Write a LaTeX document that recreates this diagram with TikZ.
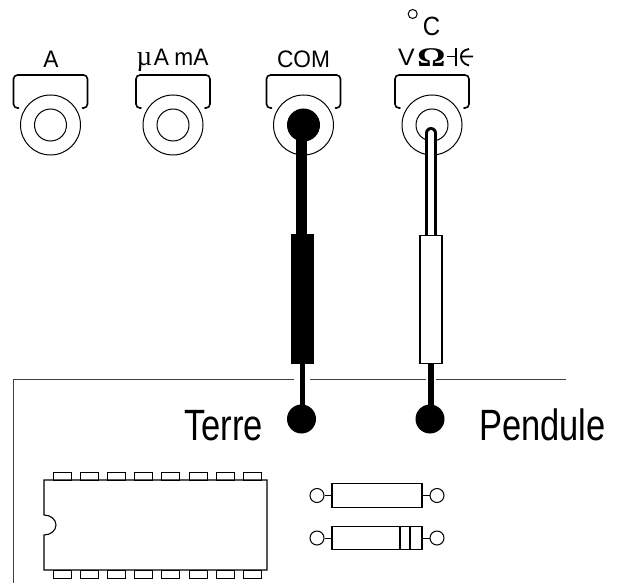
\documentclass[tikz,border=0pt]{standalone}
\usepackage{fontspec}
\setmainfont{Liberation Sans}
\newfontfamily\grk{Liberation Serif}
\tikzset{
 x=1pt,y=-1pt,
 brk/.style={line width=1.6pt,rounded corners=4pt,line cap=round},
 lab/.style={inner sep=0pt,font=\fontsize{22.7}{24}\selectfont,yscale=1.05},
 big/.style={inner sep=0pt,font=\fontsize{34.5}{36}\selectfont,yscale=1.27},
 jackout/.style={circle,draw,line width=1pt,minimum size=60pt,inner sep=0pt},
 jackin/.style={circle,draw,line width=1pt,minimum size=32pt,inner sep=0pt},
 plug/.style={circle,fill=black,minimum size=32pt,inner sep=0pt},
 ball/.style={circle,fill=black,minimum size=29pt,inner sep=0pt},
 sleeve/.style={draw=black,line width=1.2pt,minimum width=22pt,minimum height=128pt,inner sep=0pt},
 pin/.style={draw,line width=1pt,minimum width=18pt,minimum height=8pt,inner sep=0pt},
 lead/.style={circle,draw,line width=1pt,minimum size=14pt,inner sep=0pt},
 res/.style={draw,line width=1.1pt,minimum width=90pt,minimum height=23.5pt,inner sep=0pt},
}
\newcommand{\bracketat}[1]{\draw[brk] (#1-32,108) -- (#1-37,108) -- (#1-37,75) -- (#1+37,75) -- (#1+37,108) -- (#1+32,108);}
\begin{document}
\begin{tikzpicture}
\useasboundingbox (0,0) rectangle (622,583);
% labels
\node[lab] (la) at (51,59) {A};
\node[lab,anchor=base west] (lb) at (136.5,66) {{\grk\fontsize{27}{28}\selectfont µ}\hspace{1.5pt}A\hspace{5.5pt}mA};
\node[lab] (lc) at (303.5,59) {COM};
\node[lab,anchor=base west,xscale=1.1] (ld) at (398,66) {V};
\node[inner sep=0pt,anchor=base west,font=\fontsize{27}{28}\selectfont\bfseries\grk,xscale=1.3] (lo) at (417,67) {Ω};
\node[inner sep=0pt,anchor=base,font=\fontsize{24}{26}\selectfont,yscale=1.1] (ldc) at (431.5,36) {C};
\node[circle,draw,line width=1pt,minimum size=9pt,inner sep=0pt] (deg) at (412.7,14) {};
\coordinate (capa) at (447,56.5);
\coordinate (capb) at (456,56.5);
\coordinate (capc) at (461,56.5);
\coordinate (capd) at (473,56.5);
\draw[line width=1.8pt] (capa) -- (capb) (456,48.5) -- (456,66);
\draw[line width=1.8pt] (capc) -- (capd) (469,49) .. controls (463,50) and (461,53) .. (461,56.5) .. controls (461,60) and (463,64) .. (469,65.5);
% jacks
\foreach \n/\xx in {a/50.5,b/173,c/303.5,d/432}{
 \node[jackout] (o\n) at (\xx,125) {};
 \node[jackin] (i\n) at (\xx,125) {};
 \bracketat{\xx}
}
% panel line
\coordinate (pl) at (13,583);
\coordinate (pc) at (13,379);
\coordinate (p1) at (294,379);
\coordinate (p2) at (310,379);
\coordinate (p3) at (426,379);
\coordinate (p4) at (436,379);
\coordinate (pr) at (566,379);
\draw[line width=1pt,black!75] (pl) -- (pc) -- (p1) (p2) -- (p3) (p4) -- (pr);
% black lead
\node[plug] (pc1) at (303.5,125) {};
\coordinate (ct) at (301.5,125);
\coordinate (cb) at (301.5,240);
\coordinate (ct2) at (302,360);
\coordinate (cb2) at (302,419);
\draw[line width=11pt] (ct) -- (cb);
\draw[line width=5pt] (ct2) -- (cb2);
\node[sleeve,fill=black] (sc) at (302.5,299) {};
\node[ball] (bc) at (301.5,419) {};
% pendule lead
\coordinate (dt) at (431,133);
\coordinate (db) at (431,240);
\coordinate (dt2) at (431,360);
\coordinate (db2) at (431,419);
\draw[line width=12pt,line cap=round] (dt) -- (db);
\draw[line width=6pt,white,line cap=round] (dt) -- (db);
\draw[line width=6pt] (dt2) -- (db2);
\node[sleeve,fill=white] (sd) at (431,299.5) {};
\node[ball] (bd) at (430,419) {};
\node[big,anchor=base west] (t1) at (184,440) {Terre};
\node[big,anchor=base west] (t2) at (479,440) {Pendule};
% IC
\draw[line width=1.1pt] (44,480) -- (267,480) -- (267,570) -- (44,570) -- (44,535)
  arc[start angle=90,end angle=-90,x radius=12,y radius=10] -- cycle;
\foreach \i in {0,...,7}{
 \node[pin] (pt\i) at (62+27.2*\i,476) {};
 \node[pin] (pb\i) at (62+27.2*\i,574) {};
}
% resistors
\node[res] (r1) at (377,495.5) {};
\node[lead] (r1l) at (317,495.5) {};
\node[lead] (r1r) at (437,495.5) {};
\draw[line width=1pt] (r1l) -- (r1) (r1) -- (r1r);
\node[res] (r2) at (377,538) {};
\node[lead] (r2l) at (317,538) {};
\node[lead] (r2r) at (437,538) {};
\draw[line width=1pt] (r2l) -- (r2) (r2) -- (r2r);
\draw[line width=1.5pt] (400,526.5) -- (400,549.5) (410,526.5) -- (410,549.5);
\end{tikzpicture}
\end{document}
